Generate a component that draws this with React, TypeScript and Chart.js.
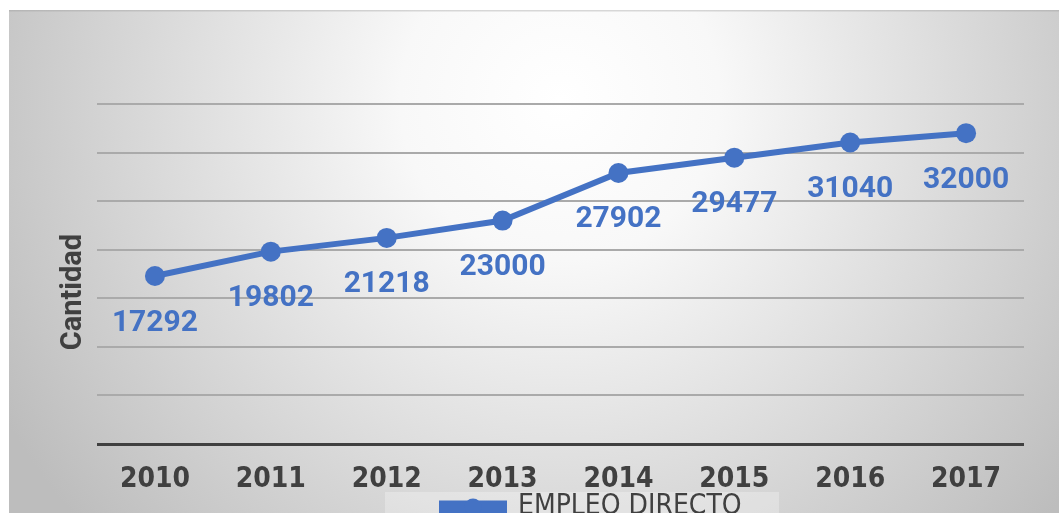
import { useEffect, useRef } from 'react';
import { Chart, registerables } from 'chart.js';

Chart.register(...registerables);

const categories = ['2010', '2011', '2012', '2013', '2014', '2015', '2016', '2017'];
const empleoDirecto = [17292, 19802, 21218, 23000, 27902, 29477, 31040, 32000];
const seriesLabel = 'EMPLEO DIRECTO';
const yTitle = 'Cantidad';
const yMin = 0;
const yMax = 35000;
const yStep = 5000;

const W = 1059;
const H = 540;
const BLUE = '#4472C4';
const DARK = '#404040';
const NARROW = "'DejaVu Sans Condensed', 'Liberation Sans', sans-serif";
const ROUND = "Roboto, 'Noto Sans', sans-serif";
const LEGEND_BOX_W = 62;
const LEGEND_FONT = 28;

const bgPlugin = {
  id: 'bgPlugin',
  beforeDraw(chart: any) {
    const ctx = chart.ctx;
    ctx.save();
    ctx.fillStyle = '#ffffff';
    ctx.fillRect(0, 0, chart.width, chart.height);
    const g = ctx.createRadialGradient(560, 100, 0, 560, 100, 640);
    g.addColorStop(0, '#ffffff');
    g.addColorStop(0.25, '#f8f8f8');
    g.addColorStop(1, '#bdbdbd');
    ctx.fillStyle = g;
    ctx.fillRect(9, 10, chart.width - 9, chart.height - 10);
    ctx.fillStyle = 'rgba(150,150,150,0.35)';
    ctx.fillRect(9, 10, chart.width - 9, 1.5);
    const lg = chart.legend;
    if (lg && lg.legendHitBoxes && lg.legendHitBoxes[0]) {
      const hb = lg.legendHitBoxes[0];
      ctx.fillStyle = 'rgba(255,255,255,0.28)';
      ctx.fillRect(hb.left - 57, 492, 394, chart.height - 492);
    }
    ctx.restore();
  },
};

const legendShiftPlugin = {
  id: 'legendShift',
  afterLayout(chart: any) {
    const lg = chart.legend;
    if (!lg || !lg.lineWidths) return;
    const start = (lg.left + lg.right - lg.lineWidths[0]) / 2;
    const shift = 442 - start;
    lg.left += shift;
    lg.right += shift;
  },
  afterDraw(chart: any) {
    const lg = chart.legend;
    if (!lg || !lg.legendHitBoxes || !lg.legendHitBoxes[0]) return;
    const hb = lg.legendHitBoxes[0];
    const ctx = chart.ctx;
    ctx.save();
    ctx.fillStyle = BLUE;
    ctx.beginPath();
    ctx.arc(hb.left + LEGEND_BOX_W / 2, lg.top + LEGEND_FONT / 2, 8.5, 0, Math.PI * 2);
    ctx.fill();
    ctx.restore();
  },
};

const dataLabelPlugin = {
  id: 'dataLabels',
  afterDatasetsDraw(chart: any) {
    const meta = chart.getDatasetMeta(0);
    const ctx = chart.ctx;
    ctx.save();
    ctx.font = `bold 30px ${ROUND}`;
    ctx.fillStyle = BLUE;
    ctx.textAlign = 'center';
    ctx.textBaseline = 'middle';
    meta.data.forEach((pt: any, i: number) => {
      ctx.fillText(String(empleoDirecto[i]), pt.x, pt.y + 47);
    });
    ctx.restore();
  },
};

export default function App() {
  const ref = useRef<HTMLCanvasElement>(null);

  useEffect(() => {
    if (!ref.current) return;
    const chart = new Chart(ref.current, {
      type: 'line',
      data: {
        labels: categories,
        datasets: [
          {
            label: seriesLabel,
            data: empleoDirecto,
            borderColor: BLUE,
            backgroundColor: BLUE,
            borderWidth: 6,
            pointRadius: 10,
            pointBackgroundColor: BLUE,
            pointBorderWidth: 0,
            tension: 0,
          },
        ],
      },
      options: {
        responsive: false,
        animation: false,
        devicePixelRatio: 1,
        layout: { padding: { left: 0, right: 35, top: 104, bottom: 9 } },
        plugins: {
          tooltip: { enabled: false },
          legend: {
            position: 'bottom',
            labels: {
              boxWidth: LEGEND_BOX_W,
              boxHeight: 7,
              padding: 0,
              color: DARK,
              font: { family: NARROW, size: LEGEND_FONT },
            },
          },
        },
        scales: {
          x: {
            offset: true,
            grid: { display: false },
            border: { display: false },
            ticks: {
              padding: 11,
              color: DARK,
              font: { family: NARROW, size: 28, weight: 'bold' },
            },
            afterFit(scale: any) {
              scale.height = 49;
            },
          },
          y: {
            min: yMin,
            max: yMax,
            ticks: { display: false, stepSize: yStep },
            border: { display: false },
            grid: {
              drawTicks: false,
              color: (c: any) => (c.tick && c.tick.value === 0 ? DARK : '#aaaaaa'),
              lineWidth: (c: any) => (c.tick && c.tick.value === 0 ? 3 : 2),
            },
            title: {
              display: true,
              text: yTitle + '     ',
              color: DARK,
              font: { family: ROUND, size: 29, weight: 'bold' },
              padding: { top: 56, bottom: 0 },
            },
            afterFit(scale: any) {
              scale.width = 97;
            },
          },
        },
      } as any,
      plugins: [bgPlugin, legendShiftPlugin, dataLabelPlugin],
    });
    return () => chart.destroy();
  }, []);

  return (
    <div style={{ position: 'fixed', left: 0, top: 0, width: W, height: 513, overflow: 'hidden' }}>
      <canvas ref={ref} width={W} height={H} style={{ display: 'block', width: W, height: H }} />
    </div>
  );
}
